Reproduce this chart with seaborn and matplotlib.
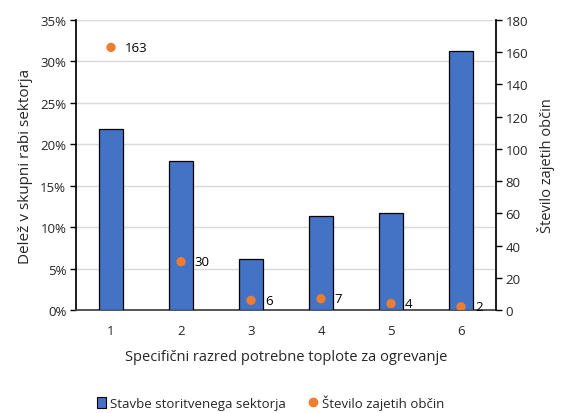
import matplotlib
matplotlib.use("Agg")
import matplotlib.pyplot as plt
from matplotlib.ticker import PercentFormatter, MultipleLocator
from matplotlib.lines import Line2D
from matplotlib.patches import Patch
import seaborn as sns
import pandas as pd

# Data
categories = ["1", "2", "3", "4", "5", "6"]
share_pct = [21.8, 18.0, 6.1, 11.4, 11.7, 31.2]
municipalities = [163, 30, 6, 7, 4, 2]

bar_color = "#4472C4"
dot_color = "#ED7D31"

sns.set_theme(style="white")
plt.rcParams["font.family"] = ["Open Sans", "DejaVu Sans"]

df = pd.DataFrame({"razred": categories, "delez": share_pct, "obcine": municipalities})

fig = plt.figure(figsize=(5.61, 4.14), dpi=100)
ax = fig.add_axes([76 / 561, 1 - 311 / 414, 420 / 561, 290 / 414])

sns.barplot(data=df, x="razred", y="delez", color=bar_color, width=0.33,
            edgecolor="black", linewidth=0.9, saturation=1, ax=ax, zorder=3)
ax.set_ylim(0, 35)
ax.set_xlim(-0.5, 5.5)
ax.yaxis.set_major_locator(MultipleLocator(5))
ax.yaxis.set_major_formatter(PercentFormatter(decimals=0))
ax.grid(axis="y", color="#d9d9d9", linewidth=1.0, zorder=0)
ax.set_axisbelow(True)
ax.set_xlabel("Specifični razred potrebne toplote za ogrevanje", fontsize=10.5, labelpad=9)
ax.set_ylabel("Delež v skupni rabi sektorja", fontsize=11, labelpad=5)
ax.tick_params(axis="y", which="major", length=4, width=1, color="black", labelsize=9.5, pad=3, left=True)
ax.tick_params(axis="x", length=0, labelsize=9.5, pad=10)
for side in ("top", "right"):
    ax.spines[side].set_visible(False)
ax.spines["left"].set_color("black")
ax.spines["bottom"].set_color("#404040")

ax2 = ax.twinx()
sns.scatterplot(x=list(range(len(categories))), y=municipalities, color=dot_color,
                s=45, edgecolor="none", ax=ax2, zorder=4)
ax2.set_ylim(0, 180)
ax2.yaxis.set_major_locator(MultipleLocator(20))
ax2.set_ylabel("Število zajetih občin", fontsize=10.5, labelpad=6)
ax2.tick_params(axis="y", length=4, width=1, color="black", labelsize=9.5, pad=3, right=True)
for side in ("top", "left", "bottom"):
    ax2.spines[side].set_visible(False)
ax2.spines["right"].set_color("black")
ax2.grid(False)

for i, v in enumerate(municipalities):
    ax2.annotate(str(v), (i, v), xytext=(10, 0), textcoords="offset points",
                 va="center", ha="left", fontsize=9.5, color="black", zorder=5)

handles = [
    Patch(facecolor=bar_color, edgecolor="black", linewidth=0.8, label="Stavbe storitvenega sektorja"),
    Line2D([0], [0], marker="o", color="none", markerfacecolor=dot_color, markeredgecolor="none",
           markersize=7, label="Število zajetih občin"),
]
fig.legend(handles=handles, loc="lower center", bbox_to_anchor=(0.482, -0.022), ncol=2,
           frameon=False, fontsize=9.5, handlelength=0.7, handleheight=0.9,
           handletextpad=0.3, columnspacing=1.7)

fig.savefig("out.png", dpi=100)
